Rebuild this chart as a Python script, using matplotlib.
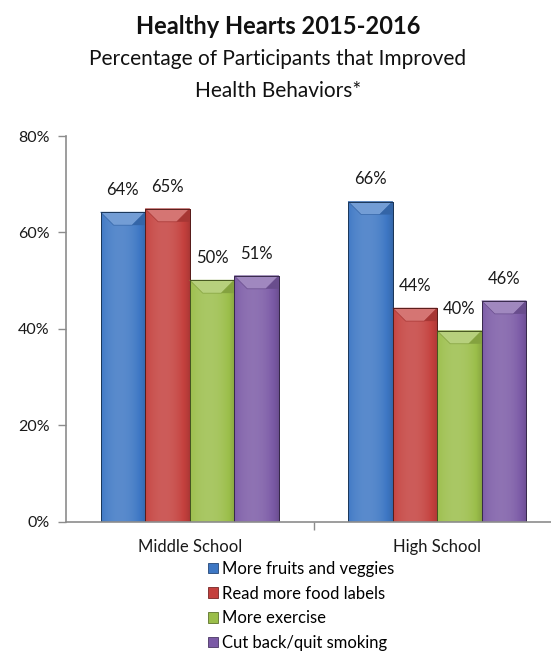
import numpy as np
import matplotlib
matplotlib.use("Agg")
import matplotlib.pyplot as plt
from matplotlib.patches import Patch, Polygon
from matplotlib.colors import to_rgb

plt.rcParams['font.family'] = ['Lato', 'DejaVu Sans']

categories = ["Middle School", "High School"]
series_names = ["More fruits and veggies", "Read more food labels",
                "More exercise", "Cut back/quit smoking"]
fruits_veggies = [64.2, 66.4]
food_labels = [64.9, 44.3]
exercise = [50.1, 39.6]
quit_smoking = [51.0, 45.8]
series_values = [fruits_veggies, food_labels, exercise, quit_smoking]
yticks = [0, 20, 40, 60, 80]
colors = ["#3D77C4", "#C4403D", "#9BBE4A", "#7B5AA6"]

W, H = 551, 654
fig = plt.figure(figsize=(W / 100, H / 100), dpi=100)
ax = fig.add_axes([66 / W, (H - 521.7) / H, (561 - 66) / W, (521.7 - 136) / H])

x = np.arange(len(categories))
bw = 0.18
n = len(series_values)


def shade(c, f):
    r = np.array(to_rgb(c))
    if f >= 0:
        return tuple(r + (1 - r) * f)
    return tuple(r * (1 + f))


px_per_x = 495 / 2.0
px_per_y = (521.7 - 136) / 80.0

for i, (vals, col) in enumerate(zip(series_values, colors)):
    offs = (i - (n - 1) / 2) * bw
    bars = ax.bar(x + offs, vals, width=bw, color=col,
                  edgecolor=shade(col, -0.45), linewidth=0.7, zorder=2)
    for b, v in zip(bars, vals):
        x0 = b.get_x()
        x1 = x0 + b.get_width()
        grad = np.linspace(0, 1, 64)
        prof = 0.16 * np.sin(np.pi * grad) ** 0.6 - 0.14 * grad ** 3
        img = np.zeros((1, 64, 4))
        base = np.array(to_rgb(col))
        for k, p in enumerate(prof):
            img[0, k, :3] = np.clip(base + (1 - base) * p if p > 0 else base * (1 + p), 0, 1)
            img[0, k, 3] = 1
        im = ax.imshow(img, extent=[x0, x1, 0, v], aspect='auto', zorder=2.1,
                       interpolation='bilinear')
        im.set_clip_path(b)
        dx = 13 / px_per_x
        dy = 13 / px_per_y
        top = Polygon([[x0, v], [x1, v], [x1 - dx, v - dy], [x0 + dx, v - dy]],
                      closed=True, facecolor=shade(col, 0.28),
                      edgecolor=shade(col, -0.15), linewidth=0.5, zorder=2.2)
        ax.add_patch(top)
        ax.add_patch(Polygon([[x1, v], [x1 - dx, v - dy], [x1, v - dy]], closed=True,
                             facecolor=shade(col, -0.15), edgecolor='none', zorder=2.2))
        ax.add_patch(Polygon([[x0, v], [x1, v], [x1, 0], [x0, 0]], closed=True,
                             facecolor='none', edgecolor=shade(col, -0.55),
                             linewidth=0.7, zorder=2.3))
        ax.annotate(f"{round(v)}%", (b.get_x() + b.get_width() / 2, v),
                    xytext=(0, 16), textcoords='offset points',
                    ha='center', va='center', fontsize=12, color='#1a1a1a')

ax.set_ylim(0, 80)
ax.set_xlim(-0.5, 1.5 - 10 / px_per_x)
ax.set_yticks(yticks)
ax.set_yticklabels([f"{t}%" for t in yticks], fontsize=11.5, color='#1a1a1a')
ax.tick_params(axis='y', direction='out', length=6, width=1, color='#8c8c8c', pad=6)
ax.set_xticks([0.5, 1.5], minor=False)
ax.set_xticklabels([])
ax.tick_params(axis='x', direction='out', length=6, width=1, color='#8c8c8c')
for xi, c in zip(x, categories):
    ax.annotate(c, (xi, 0), xytext=(0, -18.5), textcoords='offset points',
                ha='center', va='center', fontsize=12, color='#1a1a1a',
                annotation_clip=False)
for s in ['top', 'right']:
    ax.spines[s].set_visible(False)
for s in ['left', 'bottom']:
    ax.spines[s].set_color('#8c8c8c')
    ax.spines[s].set_linewidth(1.2)

fig.text(278 / W, 1 - 27 / H, "Healthy Hearts 2015-2016", ha='center', va='center',
         fontsize=17, fontweight='bold', color='#111111')
fig.text(278 / W, 1 - 59 / H, "Percentage of Participants that Improved", ha='center',
         va='center', fontsize=15, color='#111111')
fig.text(278 / W, 1 - 91 / H, "Health Behaviors*", ha='center',
         va='center', fontsize=15, color='#111111')

handles = [Patch(facecolor=c, edgecolor=shade(c, -0.4), linewidth=0.6) for c in colors]
fig.legend(handles, series_names, loc='upper left',
           bbox_to_anchor=(208 / W, 1 - 561 / H), frameon=False, fontsize=12,
           handlelength=0.6, handleheight=0.6, handletextpad=0.25, labelspacing=0.52,
           borderaxespad=0, borderpad=0)

fig.savefig("out.png", dpi=100)
